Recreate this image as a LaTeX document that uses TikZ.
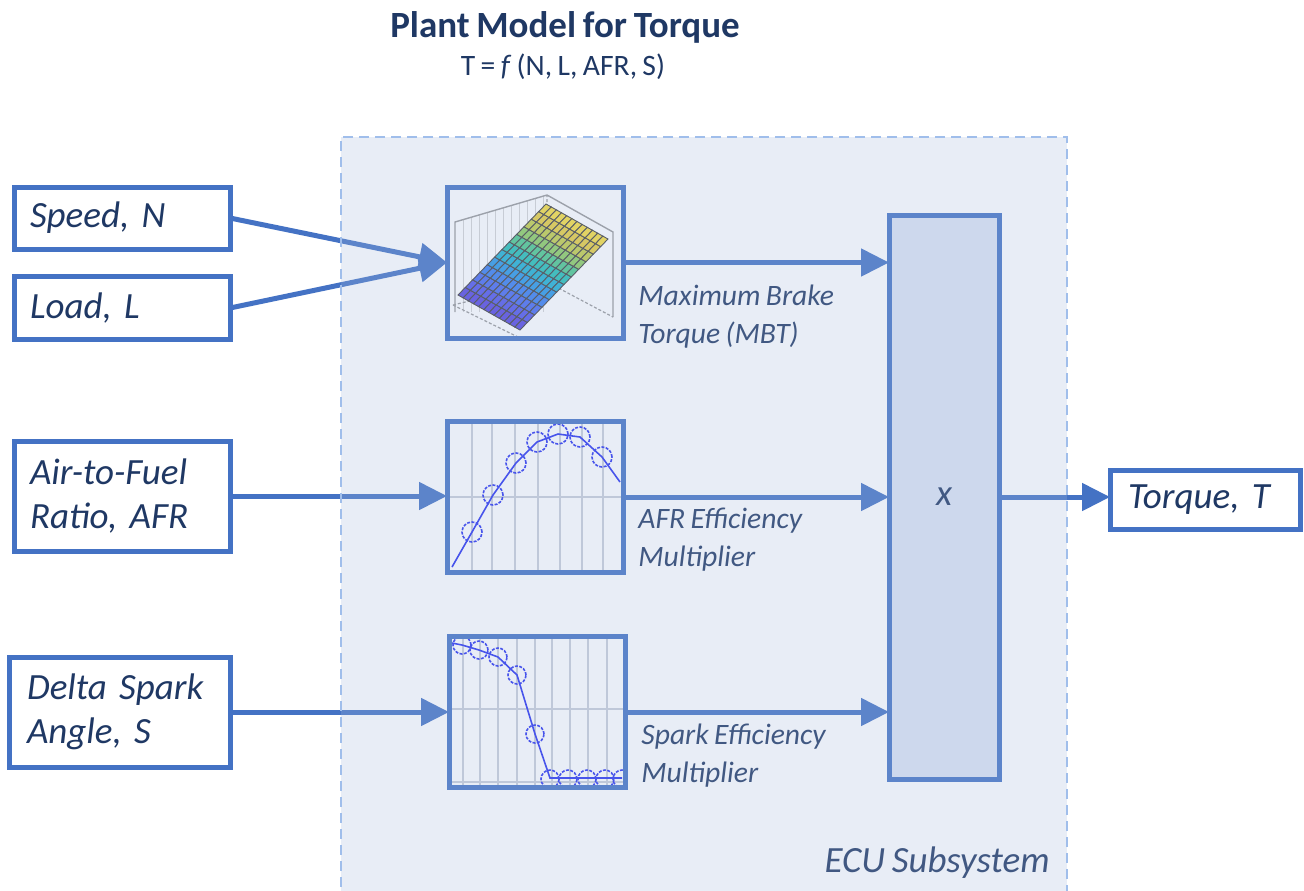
\documentclass[tikz,border=0pt]{standalone}
\usepackage{fontspec}
\setmainfont{Carlito}[WordSpace=0.8]
\usetikzlibrary{arrows.meta,calc}
\definecolor{bord}{HTML}{4472C4}
\definecolor{navy}{HTML}{1F3864}
\definecolor{ecufill}{RGB}{167,187,223}
\definecolor{ecudash}{RGB}{160,190,235}
\definecolor{multfill}{HTML}{DAE3F3}
\definecolor{gridc}{RGB}{200,205,215}
\definecolor{plotblue}{RGB}{40,50,240}
\begin{document}
\begin{tikzpicture}[x=0.5pt,y=-0.5pt,
 inbox/.style={draw=bord, line width=2.5pt, fill=white, text=navy, font=\fontsize{18.5}{22}\selectfont\itshape, align=left, inner xsep=8pt, inner ysep=0pt, outer sep=0pt},
 plotbox/.style={fill=white, minimum width=88pt, minimum height=75.5pt, inner sep=0pt, outer sep=0pt},
 plotframe/.style={draw=bord, line width=2.5pt},
 flow/.style={draw=bord, line width=2.5pt, -{Triangle[length=14pt,width=13.5pt]}},
 lab/.style={text=navy, font=\fontsize{14.8}{19}\selectfont\itshape, align=left, inner sep=0pt, anchor=west},
 curve/.style={plotblue, line width=0.8pt},
 pmark/.style={plotblue, line width=0.8pt, dash pattern=on 1.5pt off 0.7pt},
 gline/.style={gridc, line width=0.6pt}
]
\useasboundingbox (0,0) rectangle (1304,890);
\fill[white] (0,0) rectangle (1304,890);

% title
\node[text=navy, font=\fontsize{18.5}{22}\selectfont\bfseries] (title) at (565,27) {Plant Model for Torque};
\node[text=navy, font=\fontsize{14.8}{18}\selectfont] (sub) at (563,67) {T = \textit{f} (N, L, AFR, S)};

% inputs
\node[inbox, text width=92pt, minimum height=31pt] (speed) at (122,218) {Speed, N};
\node[inbox, text width=92pt, minimum height=31.5pt] (load) at (122,308) {Load, L};
\node[inbox, text width=92pt, minimum height=55pt] (afr) at (122,496) {Air-to-Fuel\\Ratio, AFR};
\node[inbox, inner xsep=9pt, text width=92.5pt, minimum height=55pt] (spark) at (119.5,712) {Delta Spark\\Angle, S};
\node[inbox, inner xsep=9pt, text width=77pt, minimum height=29.5pt] (torque) at (1205,499.5) {Torque, T};

% plot blocks
\node[plotbox] (mbt) at (535,262.5) {};
\node[plotbox] (afrb) at (535,497) {};
\node[plotbox] (sparkb) at (537,712) {};

% MBT surface plot
\begin{scope}
\clip (mbt.north west) rectangle (mbt.south east);
\foreach \x in {463,471,...,543} \draw[gray!35, line width=0.5pt] (\x,{222-(\x-455)*27/92}) -- (\x,312);
\draw[gray!80, line width=0.7pt] (455,312) -- (455,222) -- (547,195) -- (613,232) -- (613,317);
\draw[gray!80, line width=0.6pt, dash pattern=on 1.5pt off 1pt] (453,305) -- (547,282) -- (613,317) (547,282) -- (547,195) (453,305) -- (520,338);
\foreach \j/\r/\g/\b in {0/85/70/225, 1/80/85/235, 2/70/105/240, 3/55/125/240, 4/40/150/230, 5/30/175/210, 6/35/190/180, 7/75/200/140, 8/140/205/95, 9/195/205/70, 10/230/205/60, 11/245/220/60} {
  \definecolor{rowc}{RGB}{\r,\g,\b}
  \foreach \i in {0,...,11} {
    \fill[rowc, draw=black!75, line width=0.45pt] ({458+\i*5.1667+\j*7.3333},{295+\i*2.9167-\j*7.5833}) -- ++(5.1667,2.9167) -- ++(7.3333,-7.5833) -- ++(-5.1667,-2.9167) -- cycle;
  }
}
\end{scope}

% AFR plot
\begin{scope}
\clip (afrb.north west) rectangle (afrb.south east);
\foreach \x in {472,492,515,538,560,582,603} \draw[gline] (\x,420) -- (\x,575);
\draw[gline] (445,497) -- (625,497);
\draw[curve] (452,567) -- (472,532) -- (493,495) -- (516,463) -- (537,442) -- (558,434) -- (580,437) -- (602,457) -- (620,482);
\foreach \p in {(472,532),(493,495),(516,463),(537,442),(558,434),(580,437),(602,457)} \draw[pmark] \p circle[radius=5pt];
\end{scope}

% Spark plot
\begin{scope}
\clip (sparkb.north west) rectangle (sparkb.south east);
\foreach \x in {463,480,498,517,535,552,570,588,607} \draw[gline] (\x,635) -- (\x,790);
\draw[gline] (445,709) -- (630,709);
\draw[gline] (445,782) -- (630,782);
\draw[curve] (452,643) -- (462,645) -- (479,650) -- (498,657) -- (517,675) -- (535,734) -- (550,778) -- (568,778) -- (587,778) -- (605,778) -- (622,778);
\foreach \p in {(462,645),(479,650),(498,657),(517,675),(535,734),(550,779),(568,779),(587,779),(605,779),(622,779)} \draw[pmark] \p circle[radius=4.5pt];
\end{scope}

\draw[plotframe] (mbt.north west) rectangle (mbt.south east);
\draw[plotframe] (afrb.north west) rectangle (afrb.south east);
\draw[plotframe] (sparkb.north west) rectangle (sparkb.south east);

% multiplier
\node[draw=bord, line width=2.5pt, fill=multfill, minimum width=55pt, minimum height=282pt, inner sep=0pt, outer sep=0pt, text=navy, font=\fontsize{18.5}{22}\selectfont\itshape] (mult) at (944,497) {x};

% connectors
\draw[flow] (speed.east) -- (mbt.west);
\draw[flow] (load.east) -- (mbt.west);
\draw[flow] (afr.east) -- (afr.east -| afrb.west);
\draw[flow] (spark.east) -- (spark.east -| sparkb.west);
\draw[flow] (mbt.east) -- (mbt.east -| mult.west);
\draw[flow] (afrb.east) -- (afrb.east -| mult.west);
\draw[flow] (sparkb.east) -- (sparkb.east -| mult.west);
\draw[flow] (mult.east) -- (mult.east -| torque.west);

% labels
\node[lab] (lmbt) at (638,317) {Maximum Brake\\Torque (MBT)};
\node[lab] (lafr) at (638,540) {AFR Efficiency\\Multiplier};
\node[lab] (lspk) at (641,755.5) {Spark Efficiency\\Multiplier};
\node[text=navy, font=\fontsize{18.5}{22}\selectfont\itshape, anchor=base east, inner sep=0pt] (ecu) at (1050,872) {ECU Subsystem};

% ECU overlay
\fill[ecufill, fill opacity=0.25] (341,137) rectangle (1067,895);
\draw[ecudash, line width=0.9pt, dash pattern=on 5pt off 3pt] (1067,895) -- (1067,137) -- (341,137) -- (341,895);
\end{tikzpicture}
\end{document}
